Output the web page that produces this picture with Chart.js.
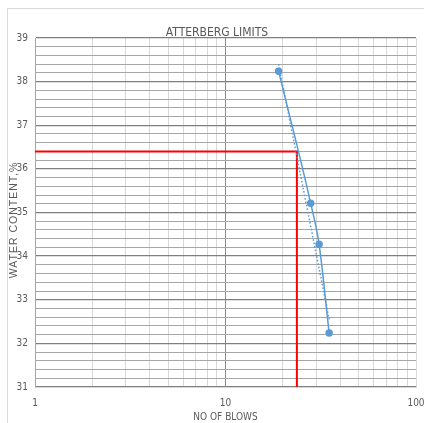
<!DOCTYPE html>
<html>
<head>
<meta charset="utf-8">
<script src="https://cdn.jsdelivr.net/npm/chart.js@4"></script>
<style>
    body { margin: 0; background: #fff; }
    #wrap { position: relative; width: 424px; height: 423px; }
    #frame { position: absolute; left: 7px; top: 8px; width: 430px; height: 430px; border: 1px solid #d9d9d9; }
    #chart { position: absolute; left: 0; top: 0; }
</style>
</head>
<body>
<div id="wrap">
    <div id="frame"></div>
    <canvas id="chart" width="424" height="423"></canvas>
</div>
<script>
const blows = [19, 28, 31, 35];
const waterContent = [38.24, 35.21, 34.27, 32.24];

// dotted trendline, end points
const trendBlows = [19, 35];
const trendWater = [38.4, 32.55];

// red guide lines for the liquid limit
const guideBlows = [1, 23.7, 23.7];
const guideWater = [36.4, 36.4, 31];

const xTickLabels = [1, 10, 100];
const yMin = 31, yMax = 39;
const chartTitle = 'ATTERBERG LIMITS';
const yTitle = 'WATER CONTENT,%';

const narrow = '"DejaVu Sans Condensed", "Liberation Sans", sans-serif';

function pts(xs, ys) {
    return xs.map((x, i) => ({ x: x, y: ys[i] }));
}

function isInt(v) {
    return Math.abs(v - Math.round(v)) < 1e-6;
}

// titles placed by hand, the original has them a little off centre
const titlePlugin = {
    id: 'titlePlugin',
    afterDraw: function (chart) {
        const c = chart.ctx;
        c.save();
        c.font = '12px ' + narrow;
        c.fillStyle = '#595959';
        c.textAlign = 'center';
        c.textBaseline = 'middle';
        c.fillText(chartTitle, 217, 33);

        c.translate(14, 220);
        c.rotate(-Math.PI / 2);
        c.font = '10.5px "Liberation Sans", sans-serif';
        c.letterSpacing = '1px';
        c.fillText(yTitle, 0, 0);
        c.restore();
    }
};

const ctx = document.getElementById('chart').getContext('2d');

new Chart(ctx, {
    type: 'scatter',
    data: {
        datasets: [
            {
                data: pts(blows, waterContent),
                showLine: true,
                borderColor: '#5b9bd5',
                backgroundColor: '#5b9bd5',
                borderWidth: 1.5,
                pointRadius: 3,
                cubicInterpolationMode: 'monotone'
            },
            {
                data: pts(trendBlows, trendWater),
                showLine: true,
                borderColor: '#5b9bd5',
                borderWidth: 1.5,
                borderDash: [1.5, 2],
                pointRadius: 0
            },
            {
                data: pts(guideBlows, guideWater),
                showLine: true,
                borderColor: '#ff0000',
                borderWidth: 2,
                pointRadius: 0,
                tension: 0
            }
        ]
    },
    plugins: [titlePlugin],
    options: {
        responsive: false,
        animation: false,
        layout: { padding: { left: 0, right: 8, top: 38, bottom: 0 } },
        plugins: {
            legend: { display: false },
            tooltip: { enabled: false },
            title: { display: false }
        },
        scales: {
            x: {
                type: 'logarithmic',
                min: 1,
                max: 100,
                afterBuildTicks: function (scale) {
                    const ticks = [];
                    [1, 10].forEach(function (d) {
                        for (let m = 1; m < 10; m++) ticks.push({ value: d * m });
                    });
                    ticks.push({ value: 100 });
                    scale.ticks = ticks;
                },
                afterFit: function (scale) {
                    scale.height = 36;
                    scale.paddingLeft = 0;
                    scale.paddingRight = 0;
                },
                grid: {
                    drawTicks: false,
                    color: function (c) {
                        const v = c.tick ? c.tick.value : 0;
                        if (v === 10) return '#8c8c8c';
                        return '#d9d9d9';
                    }
                },
                border: { color: '#d9d9d9' },
                ticks: {
                    autoSkip: false,
                    maxRotation: 0,
                    padding: 10,
                    color: '#595959',
                    font: { family: narrow, size: 10 },
                    callback: function (value) {
                        return xTickLabels.includes(value) ? String(value) : '';
                    }
                },
                title: {
                    display: true,
                    text: 'NO OF BLOWS',
                    color: '#595959',
                    font: { family: narrow, size: 10 },
                    padding: { top: -6, bottom: 0 }
                }
            },
            y: {
                min: yMin,
                max: yMax,
                afterFit: function (scale) { scale.width = 35; },
                grid: {
                    drawTicks: false,
                    color: function (c) {
                        const v = c.tick ? c.tick.value : 0;
                        return isInt(v) ? '#7f7f7f' : '#a6a6a6';
                    },
                    lineWidth: function (c) {
                        const v = c.tick ? c.tick.value : 0;
                        return isInt(v) ? 1.3 : 1;
                    }
                },
                border: { color: '#a6a6a6' },
                ticks: {
                    stepSize: 0.2,
                    autoSkip: false,
                    padding: 7,
                    color: '#595959',
                    font: { family: narrow, size: 10 },
                    callback: function (value) {
                        return isInt(value) ? String(Math.round(value)) : '';
                    }
                }
            }
        }
    }
});
</script>
</body>
</html>
